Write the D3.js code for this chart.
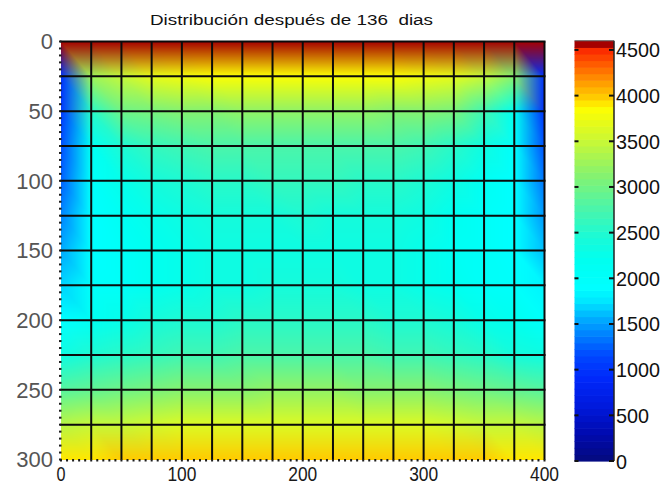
<!DOCTYPE html>
<html>
<head>
<meta charset="utf-8">
<script src="https://cdn.jsdelivr.net/npm/d3@7"></script>
<style>
  html, body { margin: 0; padding: 0; background: #fff; }
  svg { display: block; }
  text { font-family: "Liberation Sans", Arial, sans-serif; }
</style>
</head>
<body>
<svg id="chart" width="667" height="489"></svg>
<script>
// ---- data -------------------------------------------------------------
const titleText = "Distribución después de 136  dias";

// mesh node coordinates (columns along x, rows along y)
const meshX = [0, 25, 50, 75, 100, 125, 150, 175, 200, 225, 250, 275, 300, 325, 350, 375, 400];
const meshY = [0, 25, 50, 75, 100, 125, 150, 175, 200, 225, 250, 275, 300];

// node values, one array per mesh row
const row000 = [4540, 4580, 4580, 4580, 4580, 4580, 4580, 4580, 4580, 4580, 4580, 4580, 4580, 4580, 4580, 4580, 4540];
const row025 = [1000, 3250, 3500, 3680, 3790, 3830, 3850, 3860, 3860, 3860, 3850, 3830, 3790, 3680, 3480, 3150, 950];
const row050 = [1050, 2550, 2950, 3060, 3120, 3160, 3190, 3200, 3200, 3200, 3190, 3160, 3120, 3020, 2700, 2200, 1000];
const row075 = [1150, 2100, 2450, 2600, 2700, 2750, 2780, 2800, 2800, 2800, 2780, 2750, 2700, 2550, 2300, 1980, 1150];
const row100 = [1250, 1980, 2250, 2400, 2500, 2540, 2570, 2590, 2600, 2590, 2570, 2540, 2480, 2350, 2150, 1920, 1300];
const row125 = [1400, 1900, 2100, 2250, 2340, 2390, 2420, 2440, 2450, 2440, 2420, 2390, 2330, 2200, 2050, 1870, 1480];
const row150 = [1550, 1890, 2030, 2160, 2250, 2300, 2330, 2350, 2360, 2350, 2330, 2300, 2240, 2130, 2020, 1870, 1620];
const row175 = [1720, 1950, 2080, 2200, 2280, 2330, 2360, 2380, 2390, 2380, 2360, 2330, 2280, 2190, 2080, 1960, 1800];
const row200 = [1920, 2150, 2280, 2380, 2450, 2500, 2530, 2550, 2560, 2550, 2530, 2500, 2450, 2380, 2280, 2170, 2000];
const row225 = [2350, 2480, 2560, 2640, 2690, 2730, 2760, 2780, 2790, 2780, 2760, 2730, 2690, 2630, 2540, 2440, 2300];
const row250 = [2850, 2920, 2990, 3050, 3100, 3130, 3150, 3170, 3180, 3170, 3150, 3130, 3100, 3050, 2990, 2910, 2850];
const row275 = [3430, 3470, 3520, 3570, 3600, 3620, 3640, 3650, 3650, 3650, 3640, 3620, 3600, 3570, 3520, 3470, 3430];
const row300 = [3950, 3950, 3955, 3960, 3965, 3965, 3970, 3970, 3970, 3970, 3970, 3965, 3965, 3960, 3955, 3950, 3950];
const nodeRows = [row000, row025, row050, row075, row100, row125, row150,
                  row175, row200, row225, row250, row275, row300];

// axis and colorbar tick labels
const xTicks = [0, 100, 200, 300, 400];
const yTicks = [0, 50, 100, 150, 200, 250, 300];
const cbarTicks = [0, 500, 1000, 1500, 2000, 2500, 3000, 3500, 4000, 4500];
const minorStep = 5;

// colormap anchor values and colours
const cmapStops = [0, 300, 600, 900, 1150, 1350, 1550, 1750, 1900, 2200, 2450, 2800,
                   3170, 3500, 3800, 3870, 3950, 4100, 4350, 4540, 4560, 4600];
const cmapColors = ["rgb(5,10,125)", "rgb(0,10,175)", "rgb(0,25,220)", "rgb(0,40,250)",
                    "rgb(0,70,255)", "rgb(0,120,255)", "rgb(0,170,255)", "rgb(0,230,255)",
                    "rgb(0,255,255)", "rgb(0,255,240)", "rgb(25,250,215)", "rgb(80,245,165)",
                    "rgb(140,242,105)", "rgb(200,248,55)", "rgb(245,252,10)", "rgb(255,255,0)",
                    "rgb(255,215,0)", "rgb(255,170,0)", "rgb(255,90,0)", "rgb(250,30,0)",
                    "rgb(170,0,0)", "rgb(120,0,0)"];
const cbarMax = 4600;
const cbarBands = 64;

// ---- scales -----------------------------------------------------------
const svg = d3.select("#chart");
const x = d3.scaleLinear().domain([0, 400]).range([61, 544.5]);
const y = d3.scaleLinear().domain([0, 300]).range([41.5, 459.5]);
const cy = d3.scaleLinear().domain([0, cbarMax]).range([461, 40.8]);

const cmap = d3.scaleLinear().domain(cmapStops).range(cmapColors)
  .interpolate(d3.interpolateRgb).clamp(true);
const bandColors = d3.range(cbarBands).map(i => cmap((i + 0.5) * cbarMax / cbarBands));
const bandColor = d3.scaleQuantize().domain([0, cbarMax]).range(bandColors);

// ---- shaded surface (vertex colours interpolated over triangles) ------
const nodeRGB = nodeRows.map(r => r.map(v => d3.rgb(bandColor(v))));
const px0 = Math.floor(x(0)), px1 = Math.ceil(x(400));
const py0 = Math.floor(y(0)), py1 = Math.ceil(y(300));
const cw = px1 - px0, ch = py1 - py0;
const canvas = document.createElement("canvas");
canvas.width = cw; canvas.height = ch;
const ctx = canvas.getContext("2d");
const img = ctx.createImageData(cw, ch);
const nCols = meshX.length - 1, nRows = meshY.length - 1;
for (let j = 0; j < ch; j++) {
  const dy = Math.max(0, Math.min(300, y.invert(py0 + j + 0.5)));
  const rj = Math.max(0, Math.min(nRows - 1, d3.bisectRight(meshY, dy) - 1));
  const v = (dy - meshY[rj]) / (meshY[rj + 1] - meshY[rj]);
  for (let i = 0; i < cw; i++) {
    const dx = Math.max(0, Math.min(400, x.invert(px0 + i + 0.5)));
    const ci = Math.max(0, Math.min(nCols - 1, d3.bisectRight(meshX, dx) - 1));
    const u = (dx - meshX[ci]) / (meshX[ci + 1] - meshX[ci]);
    const A = nodeRGB[rj][ci], B = nodeRGB[rj][ci + 1];
    const C = nodeRGB[rj + 1][ci + 1], D = nodeRGB[rj + 1][ci];
    let wa, wb, wc, wd;
    if (u >= v) { wa = 1 - u; wb = u - v; wc = v; wd = 0; }
    else { wa = 1 - v; wd = v - u; wc = u; wb = 0; }
    const k = (j * cw + i) * 4;
    img.data[k]     = A.r * wa + B.r * wb + C.r * wc + D.r * wd;
    img.data[k + 1] = A.g * wa + B.g * wb + C.g * wc + D.g * wd;
    img.data[k + 2] = A.b * wa + B.b * wb + C.b * wc + D.b * wd;
    img.data[k + 3] = 255;
  }
}
ctx.putImageData(img, 0, 0);
svg.append("image")
  .attr("x", px0).attr("y", py0).attr("width", cw).attr("height", ch)
  .attr("preserveAspectRatio", "none")
  .attr("href", canvas.toDataURL());

// ---- mesh lines -------------------------------------------------------
const mesh = svg.append("g").attr("stroke", "#0b0b0b").attr("stroke-width", 2);
mesh.selectAll("line.v").data(meshX.slice(1)).join("line").attr("class", "v")
  .attr("x1", d => x(d)).attr("x2", d => x(d))
  .attr("y1", y(0)).attr("y2", y(300));
mesh.selectAll("line.h").data(meshY.slice(0, -1)).join("line").attr("class", "h")
  .attr("x1", x(0) - 1).attr("x2", x(400) + 1)
  .attr("y1", d => y(d)).attr("y2", d => y(d));

// ---- minor tick dots along left and bottom edges -----------------------
svg.append("g").attr("fill", "#1e1e1e")
  .selectAll("rect").data(d3.range(0, 300 + 1e-9, minorStep)).join("rect")
  .attr("x", x(0) - 2).attr("y", d => y(d) - 1).attr("width", 2.5).attr("height", 2);
svg.append("g").attr("fill", "#1e1e1e")
  .selectAll("rect").data(d3.range(0, 400 + 1e-9, minorStep)).join("rect")
  .attr("x", d => x(d) - 1).attr("y", y(300) - 0.5).attr("width", 2).attr("height", 2.5);

// ---- tick labels ------------------------------------------------------
svg.append("g").selectAll("text").data(yTicks).join("text")
  .attr("x", 53).attr("y", d => y(d)).attr("dy", "0.36em")
  .attr("text-anchor", "end").attr("font-size", 22).attr("fill", "#555")
  .text(d => d);
svg.append("g").selectAll("text").data(xTicks).join("text")
  .attr("x", d => x(d)).attr("y", 481)
  .attr("text-anchor", "middle").attr("font-size", 20).attr("fill", "#1a1a1a")
  .attr("textLength", d => String(d).length * 10 - 1)
  .attr("lengthAdjust", "spacingAndGlyphs")
  .text(d => d);

// ---- colorbar -----------------------------------------------------------
const cbx0 = 574.5, cbx1 = 614;
const bandW = cbarMax / cbarBands;
svg.append("g").selectAll("rect").data(bandColors).join("rect")
  .attr("x", cbx0).attr("width", cbx1 - cbx0)
  .attr("y", (c, i) => cy((i + 1) * bandW))
  .attr("height", (c, i) => cy(i * bandW) - cy((i + 1) * bandW) + 0.6)
  .attr("fill", c => c);
svg.append("line").attr("x1", cbx1).attr("x2", cbx1).attr("y1", cy(cbarMax)).attr("y2", cy(0))
  .attr("stroke", "#222").attr("stroke-width", 1.5);
svg.append("line").attr("x1", cbx0).attr("x2", cbx1).attr("y1", cy(cbarMax)).attr("y2", cy(cbarMax))
  .attr("stroke", "#555").attr("stroke-width", 1);
const cbt = svg.append("g").attr("stroke", "#111").attr("stroke-width", 2);
cbt.selectAll("line.l").data(cbarTicks).join("line").attr("class", "l")
  .attr("x1", cbx0).attr("x2", cbx0 + 4).attr("y1", d => cy(d)).attr("y2", d => cy(d));
cbt.selectAll("line.r").data(cbarTicks).join("line").attr("class", "r")
  .attr("x1", cbx1 - 5).attr("x2", cbx1).attr("y1", d => cy(d)).attr("y2", d => cy(d));
svg.append("g").selectAll("text").data(cbarTicks).join("text")
  .attr("x", 616).attr("y", d => cy(d) + 7.5)
  .attr("font-size", 21).attr("fill", "#111")
  .attr("textLength", d => String(d).length * 11)
  .attr("lengthAdjust", "spacingAndGlyphs")
  .text(d => d);

// ---- title ---------------------------------------------------------------
svg.append("text")
  .attr("x", 150).attr("y", 25.3)
  .attr("font-size", 15.5).attr("fill", "#111")
  .attr("textLength", 283).attr("lengthAdjust", "spacingAndGlyphs")
  .style("white-space", "pre")
  .text(titleText);
</script>
</body>
</html>
